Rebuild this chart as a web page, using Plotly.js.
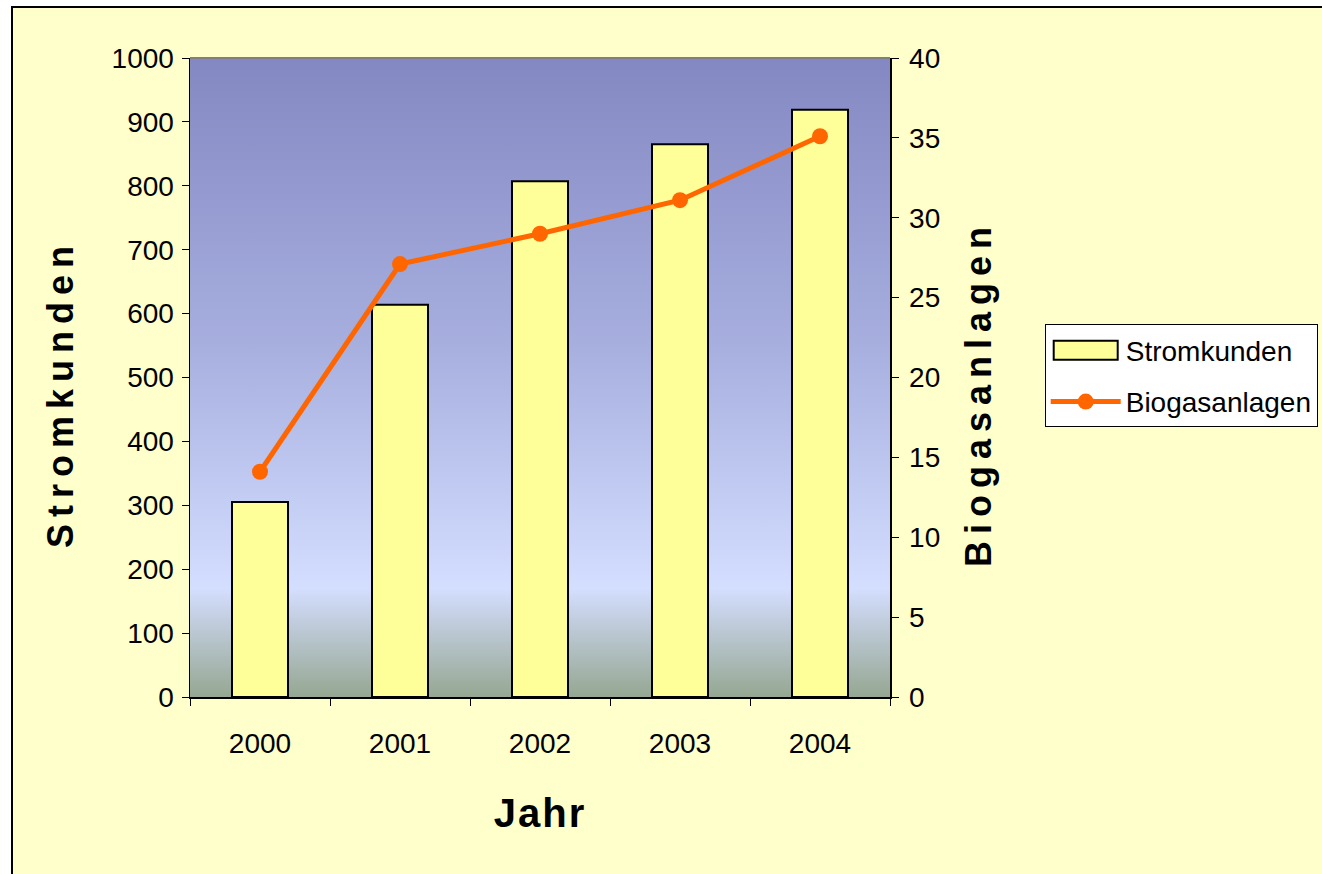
<!DOCTYPE html>
<html>
<head>
<meta charset="utf-8">
<script src="https://cdn.plot.ly/plotly-3.0.1.min.js"></script>
<style>
  html, body { margin: 0; padding: 0; background: #ffffff; width: 1322px; height: 874px; overflow: hidden; }
  #frame { position: absolute; left: 11px; top: 6px; width: 1330px; height: 890px; border: 2px solid #000; background: #FFFFCC; overflow: hidden; }
  #chart { position: absolute; left: -13px; top: -8px; width: 1450px; height: 874px; }
</style>
</head>
<body>
<div id="frame"><div id="chart"></div></div>
<script>
// Data
const years = ['2000', '2001', '2002', '2003', '2004'];
const stromkunden = [305, 614, 807, 865, 919];
const biogasanlagen = [14.1, 27.1, 29.0, 31.1, 35.1];
const leftTicks = [0, 100, 200, 300, 400, 500, 600, 700, 800, 900, 1000];
const rightTicks = [0, 5, 10, 15, 20, 25, 30, 35, 40];

const FONT = '"Liberation Sans", Arial, sans-serif';

const gradSvg = '<svg xmlns="http://www.w3.org/2000/svg" width="100" height="100" preserveAspectRatio="none">' +
  '<defs><linearGradient id="g" x1="0" y1="0" x2="0" y2="1">' +
  '<stop offset="0" stop-color="#8488C2"/>' +
  '<stop offset="0.45" stop-color="#A7AFDF"/>' +
  '<stop offset="0.83" stop-color="#D4DEFF"/>' +
  '<stop offset="1" stop-color="#95A792"/>' +
  '</linearGradient></defs><rect width="100" height="100" fill="url(#g)"/></svg>';
const gradUri = 'data:image/svg+xml;charset=utf-8,' + encodeURIComponent(gradSvg);

const traces = [
  {
    type: 'bar', name: 'Stromkunden', x: years, y: stromkunden, legendgroup: 'a',
    marker: { color: '#FFFF99', line: { color: '#000000', width: 2 } },
    yaxis: 'y'
  },
  {
    type: 'scatter', mode: 'lines+markers', name: 'Biogasanlagen', x: years, y: biogasanlagen, legendgroup: 'b',
    line: { color: '#FF6600', width: 5 },
    marker: { color: '#FF6600', size: 16 },
    yaxis: 'y2'
  }
];

const baseAxis = { showgrid: false, zeroline: false, tickcolor: '#000', ticklen: 7 };

const layout = {
  width: 1450, height: 874,
  margin: { l: 190, r: 560, t: 58, b: 177 },
  paper_bgcolor: 'rgba(0,0,0,0)',
  plot_bgcolor: 'rgba(0,0,0,0)',
  font: { family: FONT, size: 28, color: '#000' },
  bargap: 0.6,
  showlegend: true,
  legend: {
    x: 1.221, xanchor: 'left', y: 0.583, yanchor: 'top',
    bgcolor: '#FFFFFF', bordercolor: '#000000', borderwidth: 1,
    font: { family: FONT, size: 28, color: '#000' },
    itemwidth: 70, traceorder: 'grouped', tracegroupgap: 12
  },
  xaxis: Object.assign({}, baseAxis, {
    type: 'category', tickson: 'boundaries', ticks: 'outside',
    showline: true, linecolor: '#000', linewidth: 1.5,
    tickfont: { family: FONT, size: 28 }, ticklabelstandoff: 21,
    title: { text: 'Jahr', font: { family: FONT, size: 40, weight: 'bold' }, standoff: 41 }
  }),
  xaxis2: Object.assign({}, baseAxis, {
    type: 'category', categoryarray: years, categoryorder: 'array', range: [-0.5, 4.5],
    overlaying: 'x', side: 'bottom', tickson: 'boundaries', ticks: 'inside',
    tickvals: years, showticklabels: false, showline: false
  }),
  yaxis: Object.assign({}, baseAxis, {
    range: [0, 1000], tickvals: leftTicks, ticks: 'outside',
    showline: true, linecolor: '#000', linewidth: 1.5,
    tickfont: { family: FONT, size: 28 }, ticklabelstandoff: 2,
    title: { text: 'Stromkunden', font: { family: FONT, size: 36, weight: 'bold' }, standoff: 27 }
  }),
  yaxis2: Object.assign({}, baseAxis, {
    range: [0, 40], tickvals: rightTicks, overlaying: 'y', side: 'right', ticks: 'outside',
    showline: true, linecolor: '#000', linewidth: 1.5,
    tickfont: { family: FONT, size: 28 }, ticklabelstandoff: 5,
    title: { text: 'Biogasanlagen', font: { family: FONT, size: 36, weight: 'bold' }, standoff: 26 }
  }),
  yaxis3: Object.assign({}, baseAxis, {
    range: [0, 1000], tickvals: leftTicks, overlaying: 'y', side: 'left', ticks: 'inside',
    showticklabels: false, showline: false
  }),
  yaxis4: Object.assign({}, baseAxis, {
    range: [0, 40], tickvals: rightTicks, overlaying: 'y', side: 'right', ticks: 'inside',
    showticklabels: false, showline: false
  }),
  images: [{
    source: gradUri, xref: 'paper', yref: 'paper', x: 0, y: 1, sizex: 1, sizey: 1,
    xanchor: 'left', yanchor: 'top', sizing: 'stretch', layer: 'below'
  }],
  shapes: [{
    type: 'line', xref: 'paper', yref: 'paper', x0: 0, x1: 1, y0: 1, y1: 1,
    line: { color: '#808080', width: 2 }
  }]
};

Plotly.newPlot('chart', traces, layout, { displayModeBar: false, staticPlot: true }).then(function () {
  const sp = { ytitle: '7px', y2title: '7px', xtitle: '2px' };
  Object.keys(sp).forEach(function (k) {
    document.querySelectorAll('.' + k).forEach(function (el) {
      el.style.letterSpacing = sp[k];
      if (k !== 'xtitle') {
        el.setAttribute('transform', 'translate(0,16) ' + (el.getAttribute('transform') || ''));
      }
    });
  });
  // Widen the bar legend symbol to a rectangle spanning the same screen extent as the line symbol
  const barPath = document.querySelector('.legend path.legendbar') ||
                  (document.querySelectorAll('.legend .traces')[0] || document).querySelector('.legendpoints path');
  let linePath = null;
  document.querySelectorAll('.legend .legendlines path').forEach(function (p) {
    if (!linePath && p.getBBox().width > 10) linePath = p;
  });
  if (barPath && linePath) {
    const lineRect = linePath.getBoundingClientRect();
    const barRect = barPath.getBoundingClientRect();
    const barBB = barPath.getBBox();
    const x0 = barBB.x + (lineRect.left + 3 - barRect.left);
    const w = lineRect.width - 6;
    barPath.setAttribute('d', 'M' + x0 + ',-9.5h' + w + 'v19h' + (-w) + 'Z');
  }
});
</script>
</body>
</html>
